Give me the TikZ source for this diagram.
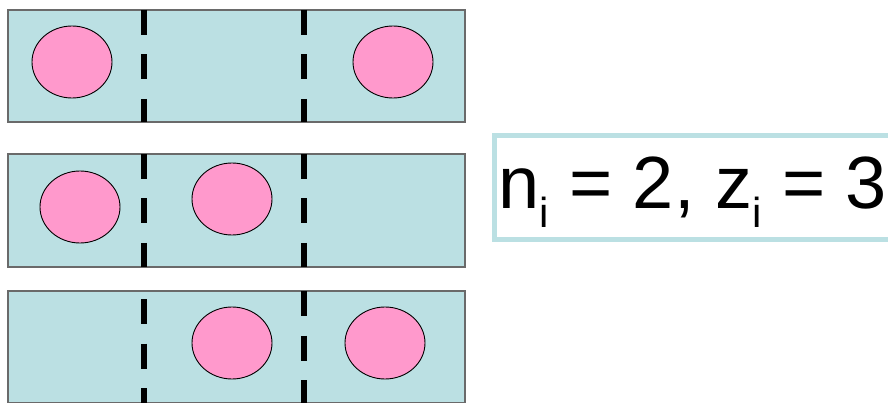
\documentclass[tikz,border=0pt]{standalone}
\usepackage{fontspec}
\setmainfont{Liberation Sans}
\definecolor{cellfill}{HTML}{BBE0E3}
\definecolor{ballpink}{HTML}{FF99CC}
\definecolor{cellline}{HTML}{6A6A6A}
\tikzset{
  cellbox/.style={fill=cellfill, draw=cellline, line width=1.2pt},
  ball/.style={fill=ballpink, draw=black, line width=0.9pt},
  wall/.style={draw=black, line width=6pt, dash pattern=on 25pt off 19.5pt},
  labelbox/.style={draw=cellfill, line width=5pt},
}
\begin{document}
\begin{tikzpicture}[x=1pt,y=-1pt]
\useasboundingbox (0,0) rectangle (888,403);
% rows
\path[cellbox] (8,10) rectangle (465,122);
\path[cellbox] (8,154) rectangle (465,267);
\path[cellbox] (8,291) rectangle (465,402.5);
% walls row 1
\draw[wall] (144,10) -- (144,122);
\draw[wall] (304,10) -- (304,122);
% walls row 2
\draw[wall] (144,154) -- (144,267);
\draw[wall] (304,154) -- (304,267);
% walls row 3
\draw[wall] (144,299) -- (144,403);
\draw[wall] (304,291) -- (304,403);
% balls
\path[ball] (72,62) ellipse [x radius=40, y radius=36];
\path[ball] (393,62) ellipse [x radius=40, y radius=36];
\path[ball] (80,207) ellipse [x radius=40, y radius=36];
\path[ball] (232,199) ellipse [x radius=40, y radius=36];
\path[ball] (232,343) ellipse [x radius=40, y radius=36];
\path[ball] (385,343) ellipse [x radius=40, y radius=36];
% label
\path[labelbox] (494.5,135.5) rectangle (895,239.5);
\node[anchor=base west, inner sep=0pt] (lbl) at (498,209)
  {\fontsize{74}{74}\selectfont n\raisebox{-19pt}{\fontsize{42}{42}\selectfont i} = 2, z\raisebox{-19pt}{\fontsize{42}{42}\selectfont i} = 3};
\end{tikzpicture}
\end{document}
